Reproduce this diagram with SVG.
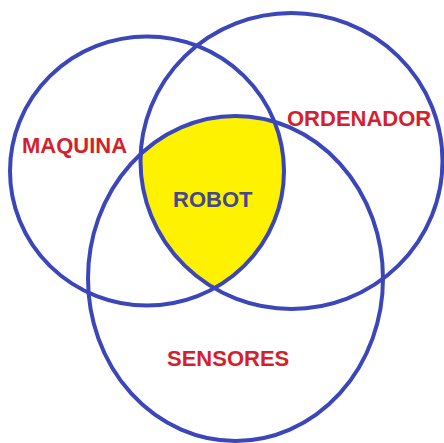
<svg xmlns="http://www.w3.org/2000/svg" width="444" height="443" viewBox="0 0 444 443">
<style>
.c{fill:none;stroke:#3c46bb;stroke-width:4}
.t{font-family:"Liberation Sans",Arial,sans-serif;font-weight:bold;font-size:22px;fill:#d61f2c}
.r{fill:#45478f}
</style>
<defs>
<clipPath id="cl"><ellipse cx="147" cy="171" rx="137" ry="134.5"/></clipPath>
<clipPath id="cr"><ellipse cx="291.5" cy="161" rx="151" ry="148"/></clipPath>
</defs>
<rect width="444" height="443" fill="#fff"/>
<g id="robot-area" clip-path="url(#cl)"><g clip-path="url(#cr)"><ellipse cx="235.5" cy="278.5" rx="147.5" ry="162.5" fill="#fff200"/></g></g>
<g id="maquina"><ellipse class="c" cx="147" cy="171" rx="137" ry="134.5"/><text class="t" x="22" y="153">MAQUINA</text></g>
<g id="ordenador"><ellipse class="c" cx="291.5" cy="161" rx="151" ry="148"/><text class="t" x="287" y="126">ORDENADOR</text></g>
<g id="sensores"><ellipse class="c" cx="235.5" cy="278.5" rx="147.5" ry="162.5"/><text class="t" x="167" y="366">SENSORES</text></g>
<g id="robot"><text class="t r" x="173" y="207">ROBOT</text></g>
<g id="connectors"/>
</svg>
